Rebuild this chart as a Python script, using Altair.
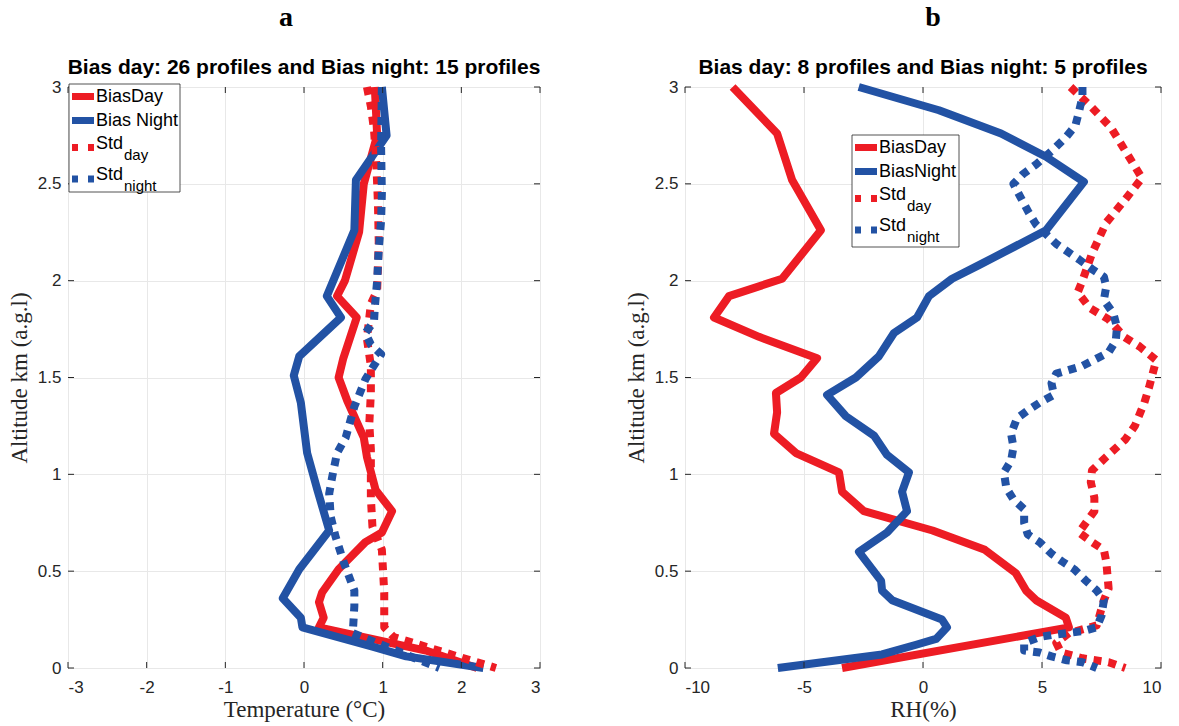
import altair as alt
import pandas as pd

# ---------------- data ----------------
# Panel a : temperature bias (degC) vs altitude (km)
ta_day_alt = [3.0, 2.75, 2.5, 2.25, 2.0, 1.92, 1.81, 1.6, 1.5, 1.38, 1.19, 1.09, 0.92, 0.81, 0.70,
              0.65, 0.51, 0.39, 0.34, 0.26, 0.21, 0.09, 0.0]
ta_day_val = [0.9, 0.93, 0.76, 0.70, 0.52, 0.42, 0.67, 0.50, 0.44, 0.55, 0.76, 0.80, 0.91, 1.12, 0.99,
              0.78, 0.44, 0.23, 0.19, 0.25, 0.19, 1.55, 2.2]

ta_night_alt = [3.0, 2.75, 2.52, 2.26, 1.92, 1.81, 1.61, 1.51, 1.37, 1.11, 0.92, 0.71, 0.51, 0.36,
                0.26, 0.21, 0.11, 0.06, 0.0]
ta_night_val = [0.99, 1.05, 0.66, 0.64, 0.29, 0.47, -0.06, -0.13, -0.04, 0.04, 0.17, 0.32, -0.06, -0.27,
                -0.04, -0.02, 0.87, 1.3, 2.28]

ta_sday_alt = [3.0, 2.9, 2.78, 2.6, 2.4, 2.2, 1.95, 1.88, 1.7, 1.56, 1.42, 1.26, 1.13, 0.88, 0.73,
               0.61, 0.39, 0.21, 0.16, 0.0]
ta_sday_val = [0.80, 0.85, 0.89, 0.92, 0.94, 0.95, 0.93, 0.85, 0.80, 0.85, 0.85, 0.83, 0.85, 0.85, 0.87,
               0.99, 1.02, 1.02, 1.14, 2.44]

ta_snight_alt = [3.0, 2.69, 2.45, 2.31, 2.16, 2.0, 1.86, 1.79, 1.73, 1.67, 1.62, 1.55, 1.49, 1.35, 1.19,
                 1.11, 0.99, 0.90, 0.78, 0.68, 0.54, 0.40, 0.32, 0.18, 0.09, 0.0]
ta_snight_val = [0.99, 0.98, 0.99, 0.98, 0.95, 0.93, 0.90, 0.89, 0.78, 0.85, 0.98, 0.87, 0.78, 0.64, 0.53,
                 0.42, 0.36, 0.32, 0.34, 0.40, 0.51, 0.64, 0.64, 0.62, 1.17, 1.72]

# Panel b : relative humidity bias (%) vs altitude (km)
rh_day_alt = [3.0, 2.76, 2.52, 2.26, 2.01, 1.92, 1.81, 1.71, 1.60, 1.50, 1.42, 1.32, 1.21, 1.11, 1.01,
              0.91, 0.81, 0.71, 0.61, 0.49, 0.40, 0.35, 0.26, 0.21, 0.0]
rh_day_val = [-8.0, -6.13, -5.5, -4.29, -5.92, -8.15, -8.78, -6.89, -4.45, -5.13, -6.18, -6.13, -6.26,
              -5.34, -3.53, -3.40, -2.48, 0.4, 2.6, 3.9, 4.33, 4.75, 6.0, 6.13, -3.4]

rh_night_alt = [3.0, 2.88, 2.76, 2.64, 2.51, 2.26, 2.08, 2.01, 1.92, 1.81, 1.73, 1.61, 1.50, 1.41, 1.30,
                1.20, 1.10, 1.01, 0.91, 0.81, 0.70, 0.60, 0.45, 0.40, 0.35, 0.25, 0.21, 0.15, 0.12,
                0.07, 0.0]
rh_night_val = [-2.7, 0.67, 3.28, 5.17, 6.76, 5.17, 2.35, 1.22, 0.25, -0.25, -1.22, -1.85, -2.82, -4.03,
                -3.24, -2.06, -1.51, -0.59, -0.88, -0.67, -1.51, -2.69, -1.76, -1.72, -1.3, 0.8, 1.01,
                0.55, -0.29, -1.72, -6.1]

rh_sday_alt = [3.0, 2.90, 2.79, 2.67, 2.53, 2.42, 2.30, 2.14, 2.0, 1.94, 1.86, 1.80, 1.71, 1.66, 1.59,
               1.45, 1.37, 1.25, 1.18, 1.09, 1.02, 0.96, 0.88, 0.81, 0.70, 0.65, 0.61, 0.55, 0.41,
               0.35, 0.22, 0.18, 0.13, 0.08, 0.05, 0.03, 0.0]
rh_sday_val = [6.2, 7.05, 7.9, 8.5, 9.2, 8.5, 7.7, 7.1, 6.7, 6.5, 7.0, 7.8, 8.45, 9.1, 9.8,
               9.5, 9.3, 8.9, 8.5, 7.7, 7.1, 7.05, 7.2, 7.2, 6.55, 7.1, 7.6, 7.7, 7.8,
               7.6, 7.3, 6.13, 5.6, 5.8, 6.7, 7.8, 8.5]

rh_snight_alt = [3.0, 2.95, 2.87, 2.80, 2.74, 2.68, 2.60, 2.55, 2.50, 2.43, 2.35, 2.29, 2.19, 2.11, 2.06,
                 2.02, 1.97, 1.90, 1.83, 1.76, 1.69, 1.63, 1.56, 1.52, 1.47, 1.41, 1.37, 1.33, 1.29,
                 1.21, 1.14, 1.07, 1.01, 0.93, 0.87, 0.82, 0.75, 0.69, 0.65, 0.59, 0.55, 0.51, 0.45,
                 0.40, 0.35, 0.27, 0.21, 0.19, 0.18, 0.17, 0.16, 0.13, 0.09, 0.08, 0.06, 0.04, 0.03, 0.0]
rh_snight_val = [6.7, 6.7, 6.55, 6.4, 6.0, 5.5, 4.75, 4.2, 3.8, 4.1, 4.45, 4.75, 5.6, 6.55, 7.1,
                 7.6, 7.7, 7.6, 8.0, 8.15, 8.1, 7.8, 6.7, 5.6, 5.4, 5.5, 4.9, 4.4, 3.95,
                 3.7, 3.8, 3.7, 3.4, 3.5, 3.8, 4.25, 4.25, 4.4, 4.9, 5.4, 5.85, 6.35, 6.85,
                 7.3, 7.6, 7.5, 7.3, 6.7, 6.05, 5.4, 4.9, 4.25, 4.25, 4.9, 5.4, 6.05, 6.7, 7.3]

y_ticks = [0, 0.5, 1, 1.5, 2, 2.5, 3]
xa_ticks = [-3, -2, -1, 0, 1, 2, 3]
xb_ticks = [-10, -5, 0, 5, 10]

legend_a = ["BiasDay", "Bias Night", "Std", "Std"]
legend_b = ["BiasDay", "BiasNight", "Std", "Std"]
legend_sub = ["", "", "day", "night"]

title_a = "Bias day: 26 profiles and Bias night: 15 profiles"
title_b = "Bias day: 8 profiles and Bias night: 5 profiles"

# ---------------- styling ----------------
RED = "#ED1C24"
BLUE = "#2252A4"
AX = "#262626"
H = 581
WA = 472
WB = 476
LW = 8
DOT = [8, 7]


def one():
    return pd.DataFrame({"k": [0]})


def panel(series, xdom, xticks, xtitle, width, box, labels, title, letter, letter_dx):
    xs = alt.Scale(domain=xdom, nice=False, zero=False)
    ys = alt.Scale(domain=[0, 3], nice=False, zero=False)
    X = alt.X("val:Q", scale=xs,
              axis=alt.Axis(values=xticks, title=xtitle, labelExpr="'' + datum.value"))
    Y = alt.Y("alt:Q", scale=ys,
              axis=alt.Axis(values=y_ticks, title="Altitude km (a.g.l)", labelExpr="'' + datum.value"))
    layers = []
    for alts, vals, color, dashed in series:
        df = pd.DataFrame({"alt": alts, "val": vals, "i": list(range(len(alts)))})
        kw = dict(color=color, strokeWidth=LW, strokeCap="butt", strokeJoin="round")
        if dashed:
            kw["strokeDash"] = DOT
        layers.append(alt.Chart(df).mark_line(**kw).encode(x=X, y=Y, order="i:Q"))

    # inward ticks (MATLAB style) on all four sides
    xt = pd.DataFrame({"val": xticks})
    yt = pd.DataFrame({"alt": y_ticks})
    tick = dict(color=AX, strokeWidth=1)
    layers.append(alt.Chart(xt).mark_rule(**tick).encode(x=X, y=alt.value(H - 6), y2=alt.value(H)))
    layers.append(alt.Chart(xt).mark_rule(**tick).encode(x=X, y=alt.value(0), y2=alt.value(6)))
    layers.append(alt.Chart(yt).mark_rule(**tick).encode(y=Y, x=alt.value(0), x2=alt.value(6)))
    layers.append(alt.Chart(yt).mark_rule(**tick).encode(y=Y, x=alt.value(width - 6), x2=alt.value(width)))

    # legend box
    bx, by, bw, bh = box
    layers.append(alt.Chart(one()).mark_rect(fill="white", stroke=AX, strokeWidth=0.8).encode(
        x=alt.value(bx), x2=alt.value(bx + bw), y=alt.value(by), y2=alt.value(by + bh)))
    styles = [(RED, False), (BLUE, False), (RED, True), (BLUE, True)]
    offs = [12.5, 36.5, 63.5, 95]
    for (color, dashed), lab, sub, o in zip(styles, labels, legend_sub, offs):
        kw = dict(color=color, strokeWidth=7, strokeCap="butt")
        if dashed:
            kw["strokeDash"] = [6, 10]
        layers.append(alt.Chart(one()).mark_rule(**kw).encode(
            x=alt.value(bx + 3), x2=alt.value(bx + 25), y=alt.value(by + o)))
        ty = by + o - (4 if sub else 0)
        layers.append(alt.Chart(one()).mark_text(
            align="left", baseline="middle", font="Liberation Sans", fontSize=18, color="black").encode(
            x=alt.value(bx + 27), y=alt.value(ty), text=alt.value(lab)))
        if sub:
            layers.append(alt.Chart(one()).mark_text(
                align="left", baseline="middle", font="Liberation Sans", fontSize=15, color="black").encode(
                x=alt.value(bx + 55), y=alt.value(ty + 11), text=alt.value(sub)))

    # chart title and panel letter
    layers.append(alt.Chart(one()).mark_text(
        align="center", baseline="middle", font="Liberation Sans", fontSize=21, fontWeight="bold",
        color="black").encode(x=alt.value(width / 2), y=alt.value(-19), text=alt.value(title)))
    layers.append(alt.Chart(one()).mark_text(
        align="center", baseline="middle", font="Liberation Serif", fontSize=28, fontWeight="bold",
        color="black").encode(x=alt.value(width / 2 + letter_dx), y=alt.value(-69), text=alt.value(letter)))

    return alt.layer(*layers).properties(width=width, height=H)


pa = panel([(ta_day_alt, ta_day_val, RED, False), (ta_night_alt, ta_night_val, BLUE, False),
            (ta_sday_alt, ta_sday_val, RED, True), (ta_snight_alt, ta_snight_val, BLUE, True)],
           [-3, 3], xa_ticks, "Temperature (°C)", WA, (1, -3, 111, 108), legend_a, title_a, "a", -18)
pb = panel([(rh_day_alt, rh_day_val, RED, False), (rh_night_alt, rh_night_val, BLUE, False),
            (rh_sday_alt, rh_sday_val, RED, True), (rh_snight_alt, rh_snight_val, BLUE, True)],
           [-10, 10], xb_ticks, "RH(%)", WB, (167, 48, 107, 112), legend_b, title_b, "b", 10)

chart = alt.hconcat(pa, pb, spacing=145, bounds="flush").properties(
    padding={"left": 7, "top": 3, "right": 5, "bottom": 5},
    background="white",
).configure_view(stroke=AX, strokeWidth=1).configure_axis(
    domain=False, ticks=False, grid=True, gridColor="#e8e8e8", gridWidth=1,
    labelFont="Liberation Sans", labelFontSize=17, labelColor=AX,
    titleFont="Liberation Serif", titleFontSize=23, titleFontWeight="normal", titleColor=AX,
).configure_axisX(labelPadding=11, titlePadding=3).configure_axisY(labelPadding=7, titlePadding=6)

chart.save("out.html", embed_options={"renderer": "svg", "actions": False})
